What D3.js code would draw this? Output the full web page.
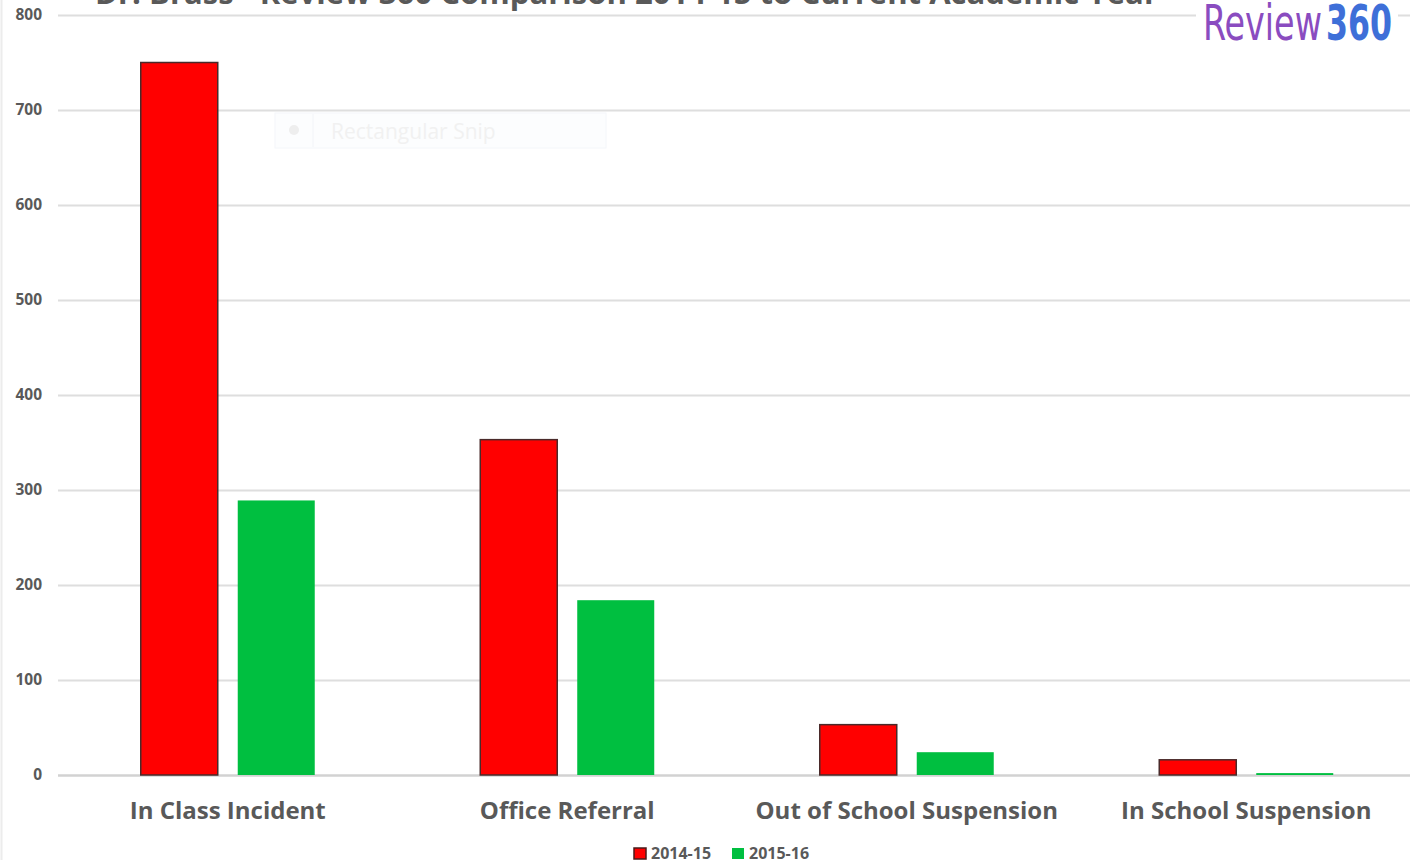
<!DOCTYPE html>
<html>
<head>
<meta charset="utf-8">
<script src="https://cdn.jsdelivr.net/npm/d3@7/dist/d3.min.js"></script>
<style>
  html, body { margin: 0; padding: 0; background: #ffffff; }
  svg { display: block; }
</style>
</head>
<body>
<svg id="chart" width="1410" height="860"></svg>
<script>
// Review360 behaviour counts per category, two academic years
const categories = ["In Class Incident", "Office Referral", "Out of School Suspension", "In School Suspension"];
const seriesNames = ["2014-15", "2015-16"];
const values2014 = [750, 353, 53, 16];
const values2015 = [289, 184, 24, 2];
const yTicks = [0, 100, 200, 300, 400, 500, 600, 700, 800];
const titleText = "Dr. Brass - Review 360 Comparison 2014-15 to Current Academic Year";

const colors = { "2014-15": "#ff0000", "2015-16": "#00bf40" };
const textColor = "#595959";
const labelFont = "'Open Sans', Lato, sans-serif";

const svg = d3.select("#chart");
const W = 1410, H = 860;

const rows = categories.map((c, i) => ({
  category: c,
  values: [
    { series: seriesNames[0], value: values2014[i] },
    { series: seriesNames[1], value: values2015[i] }
  ]
}));

// scales
const x0 = d3.scaleBand().domain(categories).range([58, 1416]).paddingInner(0.4875).paddingOuter(0.24375);
const x1 = d3.scaleBand().domain(seriesNames).range([0, x0.bandwidth()]).paddingInner(0.206).paddingOuter(0);
const y = d3.scaleLinear().domain([0, 800]).range([775, 15]);

// faint page edge on the left
svg.append("line").attr("x1", 1.5).attr("x2", 1.5).attr("y1", 0).attr("y2", H)
  .attr("stroke", "#ececec").attr("stroke-width", 2);

// gridlines
const grid = d3.axisLeft(y).tickValues(yTicks).tickSize(-(W - 58)).tickFormat("");
const gg = svg.append("g").attr("transform", "translate(58,0)").call(grid);
gg.select(".domain").remove();
gg.selectAll("line")
  .attr("stroke", d => d === 0 ? "#d2d2d2" : "#dedede")
  .attr("stroke-width", d => d === 0 ? 2.5 : 2);

// y axis labels
const yAxis = d3.axisLeft(y).tickValues(yTicks).tickSize(0).tickPadding(16);
const gy = svg.append("g").attr("transform", "translate(58,0)").call(yAxis);
gy.select(".domain").remove();
gy.selectAll("text")
  .attr("font-family", labelFont)
  .attr("font-weight", 700)
  .attr("font-size", 15.5)
  .attr("fill", textColor);

// faint leftover snip toolbar
const snip = svg.append("g");
snip.append("rect").attr("x", 275).attr("y", 113).attr("width", 331).attr("height", 35)
  .attr("fill", "#fcfdfe").attr("stroke", "#f4f6fa").attr("stroke-width", 1);
snip.append("line").attr("x1", 313).attr("x2", 313).attr("y1", 114).attr("y2", 147)
  .attr("stroke", "#f2f4f8");
snip.append("circle").attr("cx", 294).attr("cy", 130).attr("r", 5).attr("fill", "#eeeeee");
snip.append("text").attr("x", 331).attr("y", 139).text("Rectangular Snip")
  .attr("font-family", labelFont).attr("font-size", 21)
  .attr("fill", "#f1f1f1");

// bars
const groups = svg.append("g").selectAll("g").data(rows).join("g")
  .attr("transform", d => `translate(${x0(d.category)},0)`);

groups.selectAll("rect").data(d => d.values).join("rect")
  .attr("x", d => x1(d.series))
  .attr("width", x1.bandwidth())
  .attr("y", d => y(d.value))
  .attr("height", d => y(0) - y(d.value))
  .attr("fill", d => colors[d.series])
  .attr("stroke", d => d.series === "2014-15" ? "#4a2a2a" : "none")
  .attr("stroke-width", 1.5);

// category labels
svg.append("g").selectAll("text").data(categories).join("text")
  .attr("x", d => x0(d) + x0.bandwidth() / 2)
  .attr("y", 819)
  .attr("text-anchor", "middle")
  .attr("font-family", labelFont)
  .attr("font-weight", 700)
  .attr("font-size", 24)
  .attr("fill", textColor)
  .text(d => d);

// title (runs off the top edge)
svg.append("text")
  .attr("x", 95).attr("y", 4)
  .attr("textLength", 1063).attr("lengthAdjust", "spacingAndGlyphs")
  .attr("font-family", labelFont)
  .attr("font-weight", 700)
  .attr("font-size", 30)
  .attr("fill", textColor)
  .text(titleText);

// logo: condensed wordmark, squeezed horizontally to its box
svg.append("rect").attr("x", 1196).attr("y", 0).attr("width", 202).attr("height", 47).attr("fill", "#ffffff");
const logoFont = "'DejaVu Sans Condensed', 'Liberation Sans Narrow', Roboto, sans-serif";
function squeezed(text, left, width, weight, fill) {
  const g = svg.append("g");
  const t = g.append("text").attr("x", 0).attr("y", 0)
    .attr("font-family", logoFont).attr("font-size", 50).attr("font-weight", weight)
    .attr("fill", fill).text(text);
  const natural = t.node().getComputedTextLength();
  g.attr("transform", `translate(${left},40) scale(${width / natural},1)`);
}
squeezed("Review", 1203, 119, 400, "#8a4cc0");
squeezed("360", 1326, 66, 700, "#3e6fd8");

// legend
const legend = svg.append("g");
const legendItems = [
  { name: seriesNames[0], x: 634 },
  { name: seriesNames[1], x: 732 }
];
legend.selectAll("rect").data(legendItems).join("rect")
  .attr("x", d => d.x).attr("y", 848).attr("width", 12).attr("height", 11)
  .attr("fill", d => colors[d.name])
  .attr("stroke", d => d.name === "2014-15" ? "#4a1a1a" : "none")
  .attr("stroke-width", 1.5);
legend.selectAll("text").data(legendItems).join("text")
  .attr("x", d => d.x + 17).attr("y", 859)
  .attr("font-family", labelFont)
  .attr("font-weight", 700)
  .attr("font-size", 16)
  .attr("fill", textColor)
  .text(d => d.name);
</script>
</body>
</html>
